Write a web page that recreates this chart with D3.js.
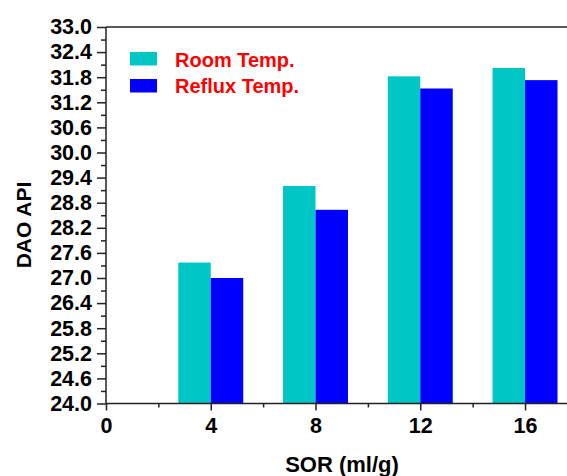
<!DOCTYPE html>
<meta charset="utf-8">
<style>
body {
    margin: 0;
    background: #fff;
    font-family: "Liberation Sans", Arial, sans-serif;
}
.axis text {
    font-size: 21.5px;
    font-weight: bold;
    fill: #000;
}
.axis path, .axis line {
    stroke: #222;
    stroke-width: 1.5px;
}
.legend text {
    font-size: 20px;
    font-weight: bold;
    fill: #ff0000;
}
.title {
    font-size: 21px;
    font-weight: bold;
}
</style>
<body>
<script src="https://d3js.org/d3.v7.min.js"></script>
<script>
var sor = [4, 8, 12, 16];
var roomTemp = [27.37, 29.2, 31.82, 32.02];
var refluxTemp = [27.0, 28.63, 31.53, 31.73];
var seriesNames = ["Room Temp.", "Reflux Temp."];
var seriesColors = ["#00c6c6", "#0000ff"];
var xTicks = [0, 4, 8, 12, 16];
var xMinor = [2, 6, 10, 14];
var yTicks = ["24.0", "24.6", "25.2", "25.8", "26.4", "27.0", "27.6", "28.2",
              "28.8", "29.4", "30.0", "30.6", "31.2", "31.8", "32.4", "33.0"];

var width = 567, height = 476;
var plotLeft = 106, plotTop = 27, plotBottom = 403.5, plotRight = 577.4;
var barW = 1.24;

var svg = d3.select("body").append("svg")
    .attr("width", width)
    .attr("height", height);

var x = d3.scaleLinear().domain([0, 18]).range([plotLeft, plotRight]);
var y = d3.scaleLinear().domain([24, 33]).range([plotBottom, plotTop]);

// bars
var series = [roomTemp, refluxTemp];
series.forEach(function(vals, s) {
    svg.append("g")
        .selectAll("rect")
        .data(vals)
        .enter()
        .append("rect")
        .attr("x", function(d, i) { return s === 0 ? x(sor[i] - barW) : x(sor[i]); })
        .attr("width", x(barW) - x(0))
        .attr("y", function(d) { return y(d); })
        .attr("height", function(d) { return y(24) - y(d); })
        .attr("fill", seriesColors[s]);
});

// minor ticks
var yMinor = yTicks.slice(0, -1).map(function(t) { return +t + 0.3; });
svg.append("g")
    .attr("class", "axis")
    .attr("transform", "translate(" + plotLeft + ",0)")
    .call(d3.axisLeft(y).tickValues(yMinor).tickSize(5).tickFormat(""))
    .select(".domain").remove();
svg.append("g")
    .attr("class", "axis")
    .attr("transform", "translate(0," + plotBottom + ")")
    .call(d3.axisBottom(x).tickValues(xMinor).tickSize(4).tickFormat(""))
    .select(".domain").remove();

// main axes
svg.append("g")
    .attr("class", "axis")
    .attr("transform", "translate(" + plotLeft + ",0)")
    .call(d3.axisLeft(y).tickValues(yTicks.map(Number)).tickSize(9).tickPadding(5)
        .tickFormat(function(d) { return d.toFixed(1); }))
    .call(function(g) { g.select(".domain").attr("d", "M0," + plotTop + "V" + plotBottom); });

svg.append("g")
    .attr("class", "axis")
    .attr("transform", "translate(0," + plotBottom + ")")
    .call(d3.axisBottom(x).tickValues(xTicks).tickSize(7).tickPadding(7)
        .tickFormat(d3.format("d")))
    .call(function(g) { g.select(".domain").attr("d", "M" + plotLeft + ",0H" + plotRight); });

// top frame line
svg.append("line")
    .attr("x1", plotLeft).attr("x2", plotRight)
    .attr("y1", plotTop).attr("y2", plotTop)
    .attr("stroke", "#222")
    .attr("stroke-width", 1.5);

// axis titles
svg.append("text")
    .attr("class", "title")
    .attr("x", 342).attr("y", 472)
    .attr("text-anchor", "middle")
    .style("font-size", "22px")
    .text("SOR (ml/g)");

svg.append("text")
    .attr("class", "title")
    .attr("transform", "translate(31,225) rotate(-90)")
    .attr("text-anchor", "middle")
    .text("DAO API");

// legend
var legend = svg.append("g").attr("class", "legend");
seriesNames.forEach(function(name, i) {
    legend.append("rect")
        .attr("x", 130).attr("y", 52 + i * 27)
        .attr("width", 27).attr("height", 13.5)
        .attr("fill", seriesColors[i]);
    legend.append("text")
        .attr("x", 175).attr("y", 66.5 + i * 26.5)
        .text(name);
});
</script>
</body>
